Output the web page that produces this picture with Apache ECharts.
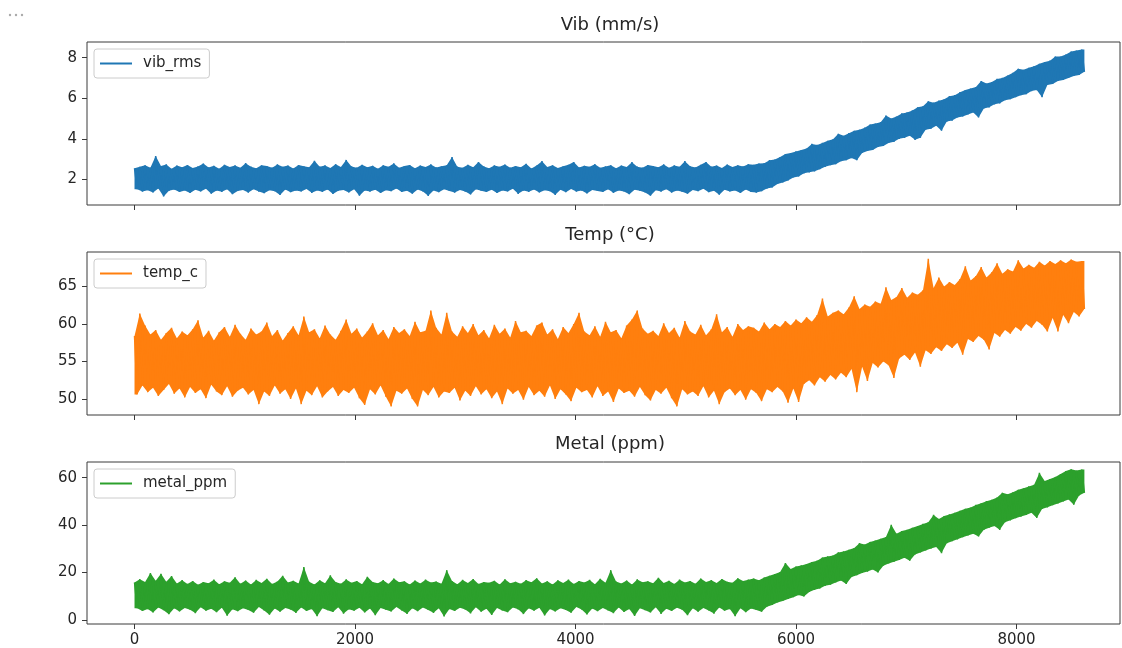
<!DOCTYPE html>
<html>
<head>
<meta charset="utf-8">
<title>Vib / Temp / Metal</title>
<script src="https://cdn.jsdelivr.net/npm/echarts@6/dist/echarts.min.js"></script>
<style>
  html, body { margin: 0; padding: 0; background: #fff; }
  #chart { width: 1122px; height: 648px; }
</style>
</head>
<body>
<div id="chart"></div>
<script>
// the signals are read as min/max per bin of 48 samples (8640 samples in all)
var BIN = 48;
var xTicks = [0, 2000, 4000, 6000, 8000];
var vibTicks = [2, 4, 6, 8];
var tempTicks = [50, 55, 60, 65];
var metalTicks = [0, 20, 40, 60];
var titles = ["Vib (mm/s)", "Temp (°C)", "Metal (ppm)"];
var names = ["vib_rms", "temp_c", "metal_ppm"];

var vibHigh = [
  2.55, 2.62, 2.70, 2.58, 3.15, 2.66, 2.74, 2.52, 2.68, 2.60,
  2.71, 2.56, 2.64, 2.78, 2.59, 2.67, 2.53, 2.72, 2.61, 2.69,
  2.57, 2.80, 2.63, 2.55, 2.70, 2.66, 2.58, 2.74, 2.62, 2.68,
  2.54, 2.71, 2.65, 2.60, 2.92, 2.63, 2.69, 2.56, 2.75, 2.61,
  2.96, 2.64, 2.58, 2.72, 2.60, 2.67, 2.53, 2.70, 2.62, 2.79,
  2.57, 2.66, 2.71, 2.55, 2.68, 2.61, 2.74, 2.59, 2.65, 2.70,
  3.10, 2.63, 2.57, 2.72, 2.60, 2.86, 2.64, 2.55, 2.69, 2.62,
  2.73, 2.58, 2.66, 2.60, 2.77, 2.54, 2.68, 2.90, 2.61, 2.70,
  2.56, 2.65, 2.72, 2.86, 2.59, 2.67, 2.62, 2.75, 2.57, 2.64,
  2.70, 2.55, 2.68, 2.61, 2.85, 2.63, 2.58, 2.71, 2.66, 2.60,
  2.74, 2.57, 2.69, 2.62, 2.90, 2.65, 2.59, 2.72, 2.86, 2.63,
  2.68, 2.56, 2.73, 2.61, 2.70, 2.64, 2.75, 2.72, 2.78, 2.80,
  2.95, 2.98, 3.10, 3.25, 3.30, 3.38, 3.45, 3.52, 3.75, 3.70,
  3.80, 3.90, 3.98, 4.25, 4.15, 4.28, 4.40, 4.45, 4.55, 4.70,
  4.75, 4.82, 5.15, 5.00, 5.10, 5.25, 5.30, 5.40, 5.55, 5.60,
  5.85, 5.78, 5.88, 5.95, 6.10, 6.15, 6.30, 6.40, 6.48, 6.55,
  6.85, 6.72, 6.80, 6.95, 7.00, 7.12, 7.25, 7.45, 7.40, 7.50,
  7.58, 7.70, 7.78, 7.85, 8.05, 8.05, 8.15, 8.30, 8.35, 8.40
];
var vibLow = [
  1.52, 1.40, 1.47, 1.36, 1.55, 1.16, 1.44, 1.50, 1.38, 1.46,
  1.33, 1.49, 1.41, 1.54, 1.30, 1.45, 1.39, 1.51, 1.27, 1.43,
  1.48, 1.35, 1.52, 1.40, 1.32, 1.47, 1.42, 1.23, 1.50, 1.37,
  1.45, 1.41, 1.53, 1.34, 1.46, 1.39, 1.50, 1.28, 1.44, 1.48,
  1.36, 1.52, 1.20, 1.45, 1.40, 1.49, 1.33, 1.47, 1.42, 1.55,
  1.38, 1.44, 1.30, 1.50, 1.41, 1.19, 1.46, 1.37, 1.52, 1.43,
  1.35, 1.48, 1.40, 1.26, 1.51, 1.44, 1.38, 1.49, 1.33, 1.46,
  1.41, 1.54, 1.29, 1.45, 1.39, 1.50, 1.36, 1.47, 1.42, 1.24,
  1.49, 1.37, 1.53, 1.40, 1.45, 1.31, 1.48, 1.43, 1.38, 1.51,
  1.34, 1.46, 1.41, 1.27, 1.49, 1.44, 1.36, 1.20, 1.47, 1.40,
  1.52, 1.35, 1.45, 1.39, 1.30, 1.48, 1.42, 1.54, 1.37, 1.44,
  1.25, 1.49, 1.41, 1.46, 1.33, 1.50, 1.38, 1.35, 1.42, 1.55,
  1.60, 1.78, 1.85, 1.95, 2.10, 2.15, 2.30, 2.35, 2.40, 2.50,
  2.62, 2.70, 2.75, 2.90, 2.95, 3.05, 2.95, 3.30, 3.40, 3.45,
  3.60, 3.65, 3.80, 3.85, 4.00, 4.05, 4.15, 3.95, 4.05, 4.45,
  4.50, 4.65, 4.40, 4.85, 4.90, 5.05, 5.10, 5.20, 5.30, 5.05,
  5.50, 5.55, 5.70, 5.75, 5.90, 5.95, 6.05, 6.15, 6.20, 6.35,
  6.40, 6.05, 6.65, 6.70, 6.85, 6.90, 7.00, 7.10, 7.15, 7.30
];

var tempHigh = [
  58.4, 61.4, 59.8, 58.6, 59.2, 57.9, 58.8, 59.5, 58.1, 59.0,
  58.5, 59.3, 60.5, 58.2, 59.1, 57.8, 58.9, 59.6, 58.3, 59.9,
  58.7, 57.9, 59.4, 58.6, 59.0, 60.2, 58.4, 59.2, 57.8, 58.8,
  59.7, 58.5, 61.0, 58.9, 59.3, 58.1, 59.8, 58.6, 57.9, 59.1,
  60.6, 58.7, 59.4, 58.2, 59.0, 60.1, 58.5, 59.2, 58.0, 59.6,
  58.8, 59.3, 58.4, 60.3, 58.9, 59.1, 61.8, 59.5, 58.6, 61.5,
  59.0, 58.3, 59.7, 58.8, 60.0, 58.5, 59.2, 58.1, 59.9, 58.7,
  59.4, 58.2, 60.4, 58.9, 59.1, 58.4, 59.8, 60.2, 58.6, 59.3,
  58.0, 59.6, 58.8, 60.0, 61.5, 59.0, 58.5, 59.7, 58.3, 60.3,
  58.9, 59.2, 58.1, 59.8, 60.6, 61.8, 59.4, 58.7, 59.1, 58.4,
  60.1, 58.8, 59.5, 58.2, 60.4, 59.0, 58.6, 59.9, 58.5, 59.3,
  61.3, 58.9, 59.6, 58.3, 60.0, 59.2, 59.7, 59.5, 59.0, 60.2,
  59.3, 60.0, 59.6, 60.4, 59.8, 60.6, 60.1, 60.9, 60.3, 61.2,
  63.4, 61.0, 61.5, 61.8, 61.3, 62.2, 63.7, 62.0, 62.6, 62.3,
  63.0, 62.7, 64.9, 63.2, 63.6, 64.8, 63.5, 64.2, 63.9, 64.5,
  68.7, 64.8, 66.2, 65.0, 65.6, 65.2, 66.0, 67.7, 65.8, 66.4,
  67.6, 66.2, 66.9, 68.1, 66.7, 67.3, 67.0, 68.5, 67.4, 67.9,
  67.5, 68.3, 67.8, 68.4, 68.0, 68.5, 68.1, 68.6, 68.3, 68.4
];
var tempLow = [
  50.6, 51.8, 50.9, 51.5, 50.4, 51.2, 52.0, 50.7, 51.4, 50.2,
  51.6, 50.8, 51.3, 50.1, 51.9, 51.0, 50.5, 51.7, 50.3, 51.1,
  51.5, 50.6, 51.2, 49.3, 51.0, 50.4, 51.8, 50.7, 51.3, 50.0,
  51.4, 49.3, 51.1, 50.5, 51.7, 50.2, 51.0, 51.6, 50.4, 51.2,
  50.8, 51.5, 50.1, 49.2, 51.3, 50.6, 51.8, 50.3, 49.0, 51.1,
  50.7, 51.4, 50.0, 49.0, 51.2, 50.5, 51.6, 50.2, 51.0, 50.8,
  51.5, 49.8, 51.1, 50.4, 51.7, 50.6, 51.3, 50.1, 51.0, 49.3,
  51.4, 50.7, 51.2, 49.9, 51.6, 50.5, 51.1, 50.3, 51.8, 50.0,
  51.3, 50.6, 49.7, 51.5, 50.9, 51.2, 50.2, 51.7, 50.4, 51.0,
  49.6, 51.4, 50.8, 51.1, 50.3, 51.6, 50.5, 49.8, 51.2, 50.7,
  51.5, 50.1, 49.0, 51.3, 50.6, 51.0, 50.4, 51.7, 50.2, 51.1,
  49.3, 50.9, 51.4, 50.5, 51.2, 49.9, 51.3, 50.8, 49.7, 51.3,
  50.9, 51.6, 51.0, 49.5, 51.4, 49.6, 52.0, 52.5, 51.8, 52.9,
  52.3, 53.2, 52.6, 53.5, 52.9, 54.0, 50.9, 54.3, 52.4, 54.8,
  54.2, 55.0, 54.5, 52.8, 55.4, 55.9, 55.2, 56.2, 54.3, 56.5,
  56.0, 56.9, 56.4, 57.3, 56.8, 57.5, 55.9, 58.0, 57.6, 58.4,
  57.9, 56.6, 58.8, 58.3, 59.2, 58.7, 59.6, 59.1, 60.0, 59.5,
  60.4, 59.9, 59.0, 60.8, 59.0, 61.2, 60.1, 61.6, 61.0, 62.0
];

var metalHigh = [
  15.8, 17.2, 16.0, 19.8, 16.5, 19.5, 16.1, 18.5, 15.4, 16.8,
  15.2, 16.4, 14.9, 16.0, 15.5, 17.0, 15.1, 16.3, 15.7, 18.0,
  15.3, 16.6, 15.0, 16.9, 15.6, 17.4, 15.2, 16.2, 18.6, 15.8,
  16.5, 15.4, 22.3, 16.1, 15.0, 16.7, 15.5, 18.8, 16.0, 15.3,
  17.1, 15.7, 16.4, 15.1, 18.2, 16.0, 15.5, 16.8, 15.2, 17.5,
  15.9, 16.3, 15.0, 16.6, 15.4, 17.0, 15.8, 16.2, 15.3, 21.0,
  16.4, 15.1, 16.9, 15.6, 17.3, 15.2, 16.0, 15.7, 16.5, 15.0,
  17.2, 15.5, 16.1, 15.3, 16.8, 15.9, 17.6, 15.4, 16.3, 15.0,
  16.7, 15.6, 17.0, 15.2, 16.4, 15.8, 16.9, 15.1, 17.4, 15.7,
  21.0, 16.2, 15.4, 16.6, 15.0, 17.1, 15.9, 16.3, 15.5, 17.8,
  15.6, 16.5, 15.2, 17.0, 15.8, 16.4, 15.3, 17.5, 16.0, 16.8,
  15.6, 17.3, 16.1, 15.7, 17.6, 16.4, 17.0, 17.5, 16.8, 17.9,
  18.6, 19.4, 20.2, 24.0, 21.5, 22.5, 23.0, 23.6, 24.4, 25.0,
  26.3, 26.8, 27.2, 28.5, 28.9, 29.6, 30.3, 32.4, 31.8, 32.9,
  33.5, 34.2, 35.0, 40.1, 36.4, 37.5, 38.0, 38.9, 39.6, 40.5,
  41.2, 44.3, 42.6, 43.8, 44.5, 45.2, 46.0, 46.9, 47.4, 48.5,
  49.2, 50.1, 50.7, 51.6, 53.6, 53.0, 53.8, 54.9, 55.5, 56.3,
  57.0, 62.0, 58.6, 59.4, 60.3, 61.5, 62.8, 63.5, 63.0, 63.4
];
var metalLow = [
  5.0, 3.8, 4.6, 3.2, 5.3, 4.1, 2.4, 4.9, 3.6, 5.1,
  4.3, 2.9, 5.4, 3.9, 4.7, 3.3, 5.2, 1.8, 4.5, 3.7,
  5.0, 4.2, 3.1, 5.5, 4.0, 2.2, 4.8, 3.5, 5.1, 4.4,
  3.0, 5.3, 3.8, 4.6, 1.6, 5.0, 4.1, 3.4, 5.4, 2.7,
  4.5, 3.9, 5.2, 3.2, 4.8, 2.0, 5.1, 4.3, 3.6, 5.5,
  4.0, 2.6, 4.9, 3.7, 5.3, 4.2, 3.0, 5.0, 1.5, 4.6,
  3.8, 5.2, 4.4, 2.8, 5.4, 3.5, 4.7, 2.1, 5.1, 4.0,
  3.3, 5.3, 4.5, 2.5, 4.9, 3.9, 5.2, 1.9, 4.6, 3.6,
  5.0, 4.2, 3.1, 5.5, 4.4, 2.3, 4.8, 3.7, 5.1, 4.0,
  2.9, 5.3, 3.4, 4.6, 1.7, 5.0, 4.1, 3.2, 5.4, 2.6,
  4.7, 3.8, 5.2, 4.3, 2.0, 4.9, 3.5, 5.1, 4.0, 2.7,
  5.3, 3.9, 4.6, 1.6, 5.0, 3.3, 4.8, 4.2, 3.5, 5.6,
  6.3, 7.4, 8.0, 8.9, 9.6, 10.5, 9.9, 11.8, 12.7, 13.3,
  14.4, 14.9, 15.8, 16.6, 15.2, 18.1, 18.9, 19.8, 20.4, 21.3,
  20.0, 22.9, 23.8, 24.5, 25.3, 26.2, 25.0, 27.6, 28.5, 29.3,
  30.1, 30.8, 28.2, 32.4, 33.2, 34.0, 34.9, 35.6, 36.4, 35.2,
  38.0, 38.9, 39.6, 38.0, 41.2, 42.0, 42.9, 43.6, 44.3, 45.2,
  43.0, 46.8, 47.5, 48.4, 49.1, 50.0, 50.8, 48.6, 52.5, 53.6
];

// max of a bin at its start, min half a bin later
function zigzag(hi, lo) {
  var pts = [];
  for (var i = 0; i < hi.length; i++) {
    pts.push([i * BIN, hi[i]]);
    pts.push([i * BIN + BIN / 2, lo[i]]);
  }
  return pts;
}
// upper edge of the band, from first to last sample of the zigzag
function upperEdge(hi) {
  var pts = hi.map(function (v, i) { return [i * BIN, v]; });
  pts.push([(hi.length - 1) * BIN + BIN / 2, hi[hi.length - 1]]);
  return pts;
}
// lower edge, stretched a little past both ends so the white mask hides the seams
function lowerEdge(lo) {
  var last = lo.length - 1;
  var pts = [[-BIN / 2, lo[0]]];
  lo.forEach(function (v, i) { pts.push([i * BIN + BIN / 2, v]); });
  pts.push([last * BIN + BIN, lo[last]]);
  return pts;
}

var FONT = "DejaVu Sans";
var INK = "#262626";
var BOX = "#3a3a3a";
var panels = [
  { top: 42, height: 163, min: 0.74, max: 8.77, ticks: vibTicks, hi: vibHigh, lo: vibLow, color: "#1f77b4", titleTop: 16 },
  { top: 252, height: 163, min: 47.85, max: 69.6, ticks: tempTicks, hi: tempHigh, lo: tempLow, color: "#ff7f0e", titleTop: 226 },
  { top: 462, height: 162, min: -1.69, max: 66.6, ticks: metalTicks, hi: metalHigh, lo: metalLow, color: "#2ca02c", titleTop: 435 }
];

var chart = echarts.init(document.getElementById("chart"), null, { renderer: "canvas" });

var option = {
  animation: false,
  backgroundColor: "#fff",
  textStyle: { fontFamily: FONT },
  title: [],
  legend: [],
  grid: [],
  xAxis: [],
  yAxis: [],
  series: [],
  graphic: [
    { type: "circle", shape: { cx: 10, cy: 15, r: 1.2 }, style: { fill: "#aaa" } },
    { type: "circle", shape: { cx: 16, cy: 15, r: 1.2 }, style: { fill: "#aaa" } },
    { type: "circle", shape: { cx: 22, cy: 15, r: 1.2 }, style: { fill: "#aaa" } }
  ]
};

panels.forEach(function (p, k) {
  option.title.push({
    text: titles[k],
    left: 610,
    top: p.titleTop,
    textAlign: "center",
    padding: 0,
    textStyle: { fontFamily: FONT, fontSize: 18, fontWeight: "normal", color: INK }
  });
  option.legend.push({
    data: [names[k]],
    left: 94,
    top: p.top + 7,
    icon: "rect",
    itemWidth: 32,
    itemHeight: 2,
    padding: [7, 8, 7, 6],
    borderColor: "#cccccc",
    borderWidth: 1,
    borderRadius: 3,
    backgroundColor: "#fff",
    z: 10,
    textStyle: { fontFamily: FONT, fontSize: 15, color: INK, padding: [0, 0, 0, 6] }
  });
  // the frame is the grid border, kept above the white mask
  option.grid.push({
    left: 87,
    right: 2,
    top: p.top,
    height: p.height,
    show: true,
    z: 4,
    borderColor: BOX,
    borderWidth: 1,
    backgroundColor: "transparent"
  });
  option.xAxis.push({
    type: "value",
    gridIndex: k,
    min: -431,
    max: 8939,
    z: 5,
    axisLine: { show: false, onZero: false },
    axisTick: { show: true, length: 5, customValues: xTicks, lineStyle: { color: BOX } },
    axisLabel: {
      show: k === 2,
      customValues: xTicks,
      formatter: function (v) { return String(v); },
      margin: 9,
      fontFamily: FONT,
      fontSize: 15,
      color: INK
    },
    splitLine: { show: false }
  });
  option.yAxis.push({
    type: "value",
    gridIndex: k,
    min: p.min,
    max: p.max,
    z: 5,
    axisLine: { show: false, onZero: false },
    axisTick: { show: true, length: 5, customValues: p.ticks, lineStyle: { color: BOX } },
    axisLabel: {
      customValues: p.ticks,
      margin: 10,
      fontFamily: FONT,
      fontSize: 15,
      color: INK
    },
    splitLine: { show: false }
  });
  // band fill: colour under the upper edge, then white under the lower edge
  option.series.push({
    name: names[k] + "_band",
    type: "line",
    xAxisIndex: k,
    yAxisIndex: k,
    data: upperEdge(p.hi),
    showSymbol: false,
    symbol: "none",
    silent: true,
    lineStyle: { width: 0 },
    areaStyle: { color: p.color, opacity: 1, origin: "start" }
  });
  option.series.push({
    name: names[k] + "_mask",
    type: "line",
    xAxisIndex: k,
    yAxisIndex: k,
    data: lowerEdge(p.lo),
    showSymbol: false,
    symbol: "none",
    silent: true,
    lineStyle: { width: 0 },
    areaStyle: { color: "#ffffff", opacity: 1, origin: "start" }
  });
  option.series.push({
    name: names[k],
    type: "line",
    xAxisIndex: k,
    yAxisIndex: k,
    data: zigzag(p.hi, p.lo),
    color: p.color,
    showSymbol: false,
    symbol: "none",
    sampling: null,
    silent: true,
    lineStyle: { width: 1.5, color: p.color }
  });
});

chart.setOption(option);
</script>
</body>
</html>
